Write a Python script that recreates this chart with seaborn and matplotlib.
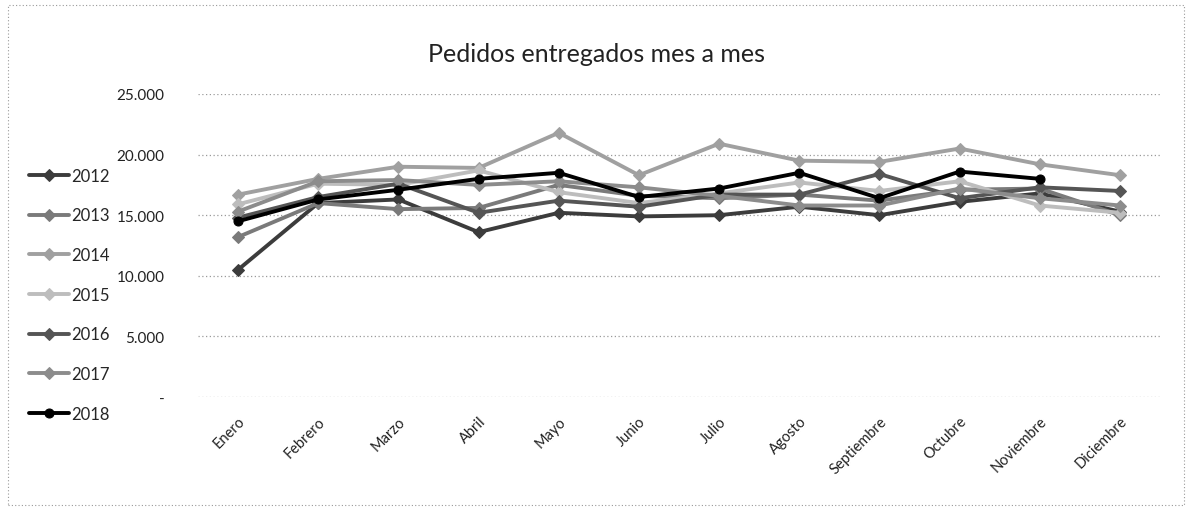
import numpy as np
import pandas as pd
import matplotlib
matplotlib.use("Agg")
import matplotlib.pyplot as plt
import seaborn as sns
from matplotlib.patches import Rectangle
from matplotlib.ticker import FuncFormatter

months = ["Enero", "Febrero", "Marzo", "Abril", "Mayo", "Junio", "Julio",
          "Agosto", "Septiembre", "Octubre", "Noviembre", "Diciembre"]
years = ["2012", "2013", "2014", "2015", "2016", "2017", "2018"]

v2012 = [10500, 16000, 16300, 13600, 15200, 14900, 15000, 15700, 15000, 16100, 16800, 15300]
v2013 = [13200, 16000, 15500, 15600, 17500, 16600, 16400, 16700, 16200, 17100, 17200, 15000]
v2014 = [16700, 18000, 19000, 18900, 21800, 18300, 20900, 19500, 19400, 20500, 19200, 18300]
v2015 = [15900, 17600, 17500, 18700, 16900, 16000, 16800, 17700, 17000, 17800, 15800, 15200]
v2016 = [14800, 16500, 17600, 15200, 16200, 15700, 16700, 16700, 18400, 16400, 17300, 17000]
v2017 = [15300, 17800, 17900, 17500, 17800, 17300, 16600, 15800, 15800, 17200, 16400, 15800]
v2018 = [14500, 16300, 17100, 18000, 18500, 16500, 17200, 18500, 16400, 18600, 18000, np.nan]

series = [v2012, v2013, v2014, v2015, v2016, v2017, v2018]
y_ticks = [0, 5000, 10000, 15000, 20000, 25000]

colors = {"2012": "#3c3c3c", "2013": "#7a7a7a", "2014": "#a0a0a0", "2015": "#bdbdbd",
          "2016": "#555555", "2017": "#8c8c8c", "2018": "#000000"}
markers = {"2012": "D", "2013": "D", "2014": "D", "2015": "D",
           "2016": "D", "2017": "D", "2018": "o"}

rows = []
for yr, vals in zip(years, series):
    for i, (m, v) in enumerate(zip(months, vals)):
        rows.append({"Año": yr, "idx": i, "Mes": m, "Pedidos": v})
df = pd.DataFrame(rows)

sns.set_theme(style="white")
plt.rcParams["font.family"] = ["Lato", "DejaVu Sans"]

fig = plt.figure(figsize=(11.94, 5.10), dpi=100)
ax = fig.add_axes([198/1194, 1-398/510, (1160-198)/1194, (398-95)/510])

sns.lineplot(data=df, x="idx", y="Pedidos", hue="Año", style="Año",
             palette=colors, markers=markers, dashes=False, sort=False,
             linewidth=2.8, markersize=6.5, markeredgecolor=None, ax=ax)

ax.set_xlim(-0.5, 11.5)
ax.set_ylim(0, 25000)
ax.set_yticks(y_ticks)
ax.yaxis.set_major_formatter(FuncFormatter(
    lambda v, p: "-" if v == 0 else f"{int(v):,}".replace(",", ".")))
ax.set_xticks(range(len(months)))
ax.set_xticklabels(months, rotation=45, ha="right", va="top",
                   rotation_mode="anchor", fontsize=10.5, color="#222222")
ax.tick_params(axis="y", labelsize=11, pad=24, length=0, labelcolor="#222222")
ax.tick_params(axis="x", pad=12, length=0)
ax.set_xlabel("")
ax.set_ylabel("")
for s in ax.spines.values():
    s.set_visible(False)
ax.grid(axis="y", color="#9a9a9a", linestyle=(0, (1, 2)), linewidth=0.9)
ax.grid(axis="x", visible=False)

handles, labels = ax.get_legend_handles_labels()
if ax.legend_:
    ax.legend_.remove()
fig.legend(handles, labels, loc="upper left", bbox_to_anchor=(22/1194, 1-162/510),
           frameon=False, fontsize=12, labelspacing=1.42, handlelength=2.4,
           handletextpad=0.15, borderaxespad=0)

fig.text(0.5, 1-55/510, "Pedidos entregados mes a mes", ha="center", va="center",
         fontsize=18, color="#222222")

fig.patches.append(Rectangle((8/1194, 4/510), 1176/1194, 500/510, transform=fig.transFigure,
                             fill=False, edgecolor="#999999", linestyle=(0, (1, 2)),
                             linewidth=0.8))

fig.savefig("out.png", dpi=100, facecolor="white")
